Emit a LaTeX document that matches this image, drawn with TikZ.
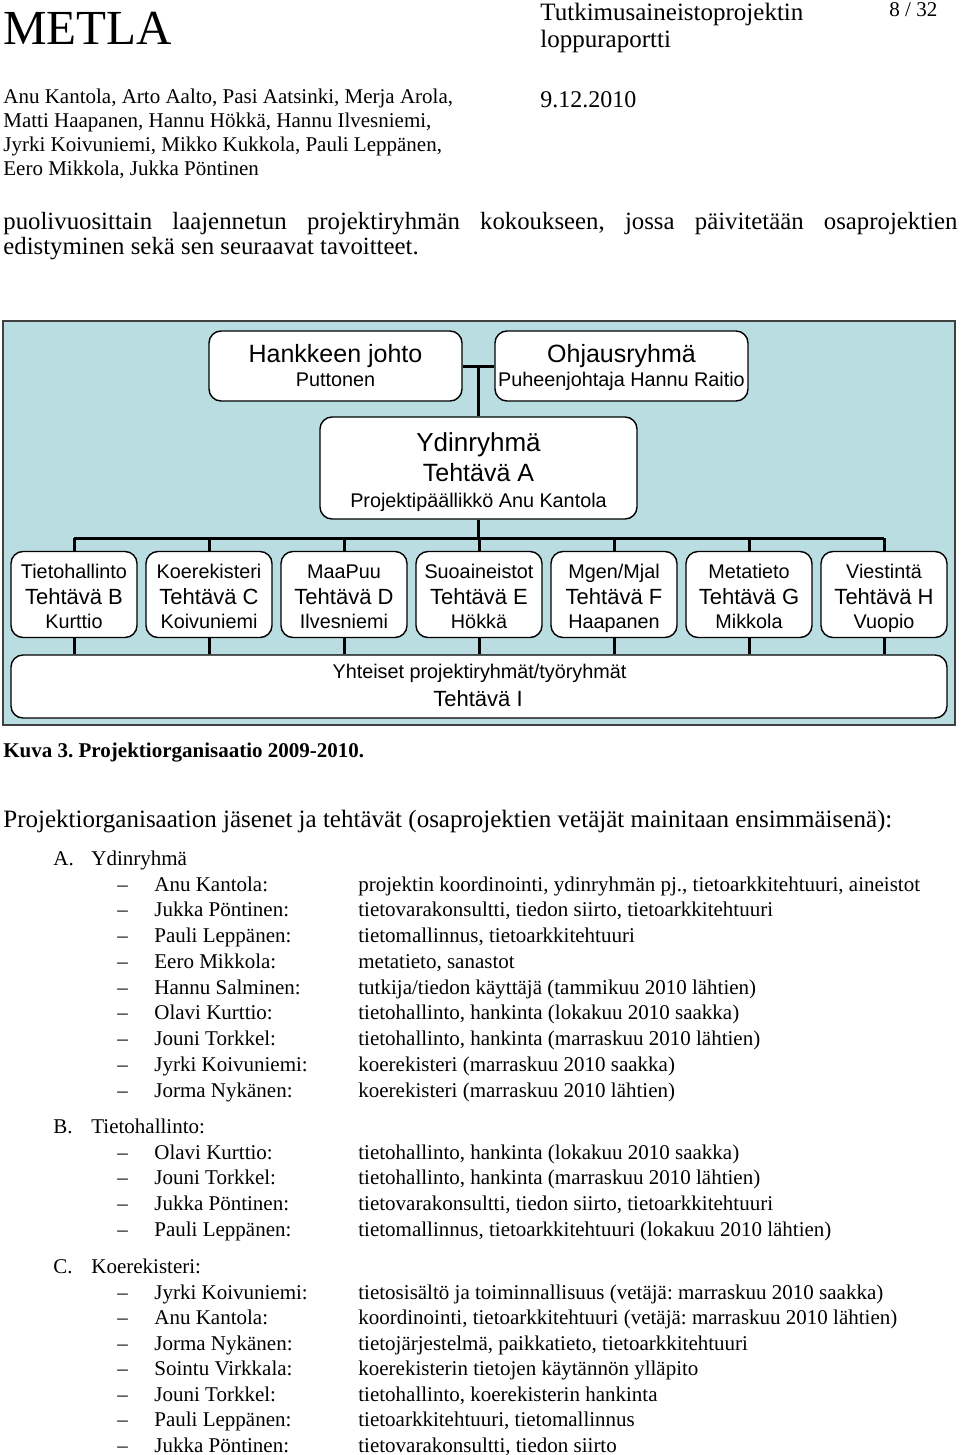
\documentclass[tikz,border=0pt]{standalone}
\usepackage{fontspec}
\setmainfont{Liberation Serif}
\newfontfamily\orgfont{Liberation Sans}
\usetikzlibrary{calc}
\definecolor{orgtausta}{RGB}{186,221,225}
\newcommand{\koko}[1]{\fontsize{#1}{#1}\selectfont}
\frenchspacing
\tikzset{
  teksti/.style={anchor=base west, inner sep=0pt, font=\koko{10.5}},
  orgteksti/.style={anchor=base, inner sep=0pt, font=\orgfont\koko{9.9}},
  orgiso/.style={anchor=base, inner sep=0pt, font=\orgfont\koko{12.5}},
  laatikko/.style={draw, line width=0.7pt, fill=white, rounded corners=6pt, inner sep=0pt},
  tehtlaatikko/.style={laatikko, minimum width=63pt, minimum height=43pt},
  viiva/.style={line width=1.5pt},
}
\begin{document}
\begin{tikzpicture}[x=0.5pt, y=-0.5pt]
\useasboundingbox (0,0) rectangle (960,1455);

\node[teksti, font=\koko{24.5}] (metla) at (3,45) {METLA};
\node[teksti, font=\koko{12.5}] (otsikko1) at (540,21) {Tutkimusaineistoprojektin};
\node[teksti, font=\koko{12.5}] (otsikko2) at (540,48) {loppuraportti};
\node[teksti] (sivu) at (889,17) {8 / 32};
\node[teksti, font=\koko{12}] (pvm) at (540,108) {9.12.2010};
\foreach \rivi/\y [count=\i] in {{Anu Kantola, Arto Aalto, Pasi Aatsinki, Merja Arola,}/104,
    {Matti Haapanen, Hannu Hökkä, Hannu Ilvesniemi,}/128,
    {Jyrki Koivuniemi, Mikko Kukkola, Pauli Leppänen,}/152,
    {Eero Mikkola, Jukka Pöntinen}/176}
  \node[teksti] (tekija\i) at (3,\y) {\rivi};

\node[teksti, font=\koko{12.4}] (kpl1) at (3,229) {\makebox[477pt][s]{puolivuosittain laajennetun projektiryhmän kokoukseen, jossa päivitetään osaprojektien}};
\node[teksti, font=\koko{12.4}] (kpl2) at (3,255) {edistyminen sekä sen seuraavat tavoitteet.};

% organisaatiokaavio
\draw[line width=1pt, draw=black!75, fill=orgtausta] (3,321) rectangle (955,725);

\node[laatikko, minimum width=126.5pt, minimum height=35pt] (johto) at (335.5,366) {};
\node[orgiso] (johto1) at (335.5,362) {Hankkeen johto};
\node[orgteksti] (johto2) at (335.5,386) {Puttonen};

\node[laatikko, minimum width=126.5pt, minimum height=35pt] (ohjaus) at (621.5,366) {};
\node[orgiso] (ohjaus1) at (621.5,362) {Ohjausryhmä};
\node[orgteksti] (ohjaus2) at (621.5,386) {Puheenjohtaja Hannu Raitio};

\node[laatikko, minimum width=158.5pt, minimum height=51pt] (ydin) at (478.5,468) {};
\node[orgiso, font=\orgfont\koko{13}] (ydin1) at (478.5,451) {Ydinryhmä};
\node[orgiso] (ydin2) at (478.5,481) {Tehtävä A};
\node[orgteksti] (ydin3) at (478.5,507) {Projektipäällikkö Anu Kantola};

\draw[viiva] (johto) -- (ohjaus);
\draw[viiva] (ydin.north |- johto.east) -- (ydin.north);
\coordinate (vayla) at (478.5,538);
\draw[viiva] (ydin.south) -- (vayla);

\node[laatikko, minimum width=468pt, minimum height=31.5pt] (yhteiset) at (479,686.5) {};
\node[orgteksti] (yhteiset1) at (479.5,678) {Yhteiset projektiryhmät/työryhmät};
\node[orgteksti, font=\orgfont\koko{11}] (yhteiset2) at (478,706) {Tehtävä I};

\foreach \id/\ala/\vetaja [count=\k from 0] in {B/Tietohallinto/Kurttio, C/Koerekisteri/Koivuniemi,
    D/MaaPuu/Ilvesniemi, E/Suoaineistot/Hökkä, F/Mgen\slash Mjal/Haapanen,
    G/Metatieto/Mikkola, H/Viestintä/Vuopio} {
  \node[tehtlaatikko] (t\id) at ({74+135*\k},594.5) {};
  \node[orgteksti] (t\id a) at ({74+135*\k},578) {\ala};
  \node[orgteksti, font=\orgfont\koko{11}] (t\id b) at ({74+135*\k},604) {Tehtävä \id};
  \node[orgteksti] (t\id c) at ({74+135*\k},628) {\vetaja};
  \draw[viiva] (t\id.north) -- (t\id.north |- vayla);
  \draw[viiva] (t\id.south) -- (t\id.south |- yhteiset.north);
}
\draw[viiva] (tB.north |- vayla) -- (tH.north |- vayla);

\node[teksti, font=\koko{10.5}\bfseries] (kuva) at (3,757) {Kuva 3. Projektiorganisaatio 2009-2010.};
\node[teksti, font=\koko{12.5}] (johdanto) at (3,827) {Projektiorganisaation jäsenet ja tehtävät (osaprojektien vetäjät mainitaan ensimmäisenä):};

% jäsenluettelo
\node[teksti] (kohtaA) at (53,865) {A.};
\node[teksti] (otsA) at (91,865) {Ydinryhmä};
\foreach \nimi/\kuvaus [count=\i] in {Anu Kantola:/{projektin koordinointi, ydinryhmän pj., tietoarkkitehtuuri, aineistot},
    Jukka Pöntinen:/{tietovarakonsultti, tiedon siirto, tietoarkkitehtuuri},
    Pauli Leppänen:/{tietomallinnus, tietoarkkitehtuuri},
    Eero Mikkola:/{metatieto, sanastot},
    Hannu Salminen:/{tutkija/tiedon käyttäjä (tammikuu 2010 lähtien)},
    Olavi Kurttio:/{tietohallinto, hankinta (lokakuu 2010 saakka)},
    Jouni Torkkel:/{tietohallinto, hankinta (marraskuu 2010 lähtien)},
    Jyrki Koivuniemi:/{koerekisteri (marraskuu 2010 saakka)},
    Jorma Nykänen:/{koerekisteri (marraskuu 2010 lähtien)}} {
  \node[teksti] (viivaA\i) at (117,{891+(\i-1)*25.75}) {–};
  \node[teksti] (nimiA\i) at (154,{891+(\i-1)*25.75}) {\nimi};
  \node[teksti] (kuvausA\i) at (358,{891+(\i-1)*25.75}) {\kuvaus};
}

\node[teksti] (kohtaB) at (53,1133) {B.};
\node[teksti] (otsB) at (91,1133) {Tietohallinto:};
\foreach \nimi/\kuvaus [count=\i] in {Olavi Kurttio:/{tietohallinto, hankinta (lokakuu 2010 saakka)},
    Jouni Torkkel:/{tietohallinto, hankinta (marraskuu 2010 lähtien)},
    Jukka Pöntinen:/{tietovarakonsultti, tiedon siirto, tietoarkkitehtuuri},
    Pauli Leppänen:/{tietomallinnus, tietoarkkitehtuuri (lokakuu 2010 lähtien)}} {
  \node[teksti] (viivaB\i) at (117,{1159+(\i-1)*25.75}) {–};
  \node[teksti] (nimiB\i) at (154,{1159+(\i-1)*25.75}) {\nimi};
  \node[teksti] (kuvausB\i) at (358,{1159+(\i-1)*25.75}) {\kuvaus};
}

\node[teksti] (kohtaC) at (53,1273) {C.};
\node[teksti] (otsC) at (91,1273) {Koerekisteri:};
\foreach \nimi/\kuvaus [count=\i] in {Jyrki Koivuniemi:/{tietosisältö ja toiminnallisuus (vetäjä: marraskuu 2010 saakka)},
    Anu Kantola:/{koordinointi, tietoarkkitehtuuri (vetäjä: marraskuu 2010 lähtien)},
    Jorma Nykänen:/{tietojärjestelmä, paikkatieto, tietoarkkitehtuuri},
    Sointu Virkkala:/{koerekisterin tietojen käytännön ylläpito},
    Jouni Torkkel:/{tietohallinto, koerekisterin hankinta},
    Pauli Leppänen:/{tietoarkkitehtuuri, tietomallinnus},
    Jukka Pöntinen:/{tietovarakonsultti, tiedon siirto}} {
  \node[teksti] (viivaC\i) at (117,{1299+(\i-1)*25.5}) {–};
  \node[teksti] (nimiC\i) at (154,{1299+(\i-1)*25.5}) {\nimi};
  \node[teksti] (kuvausC\i) at (358,{1299+(\i-1)*25.5}) {\kuvaus};
}
\end{tikzpicture}
\end{document}
